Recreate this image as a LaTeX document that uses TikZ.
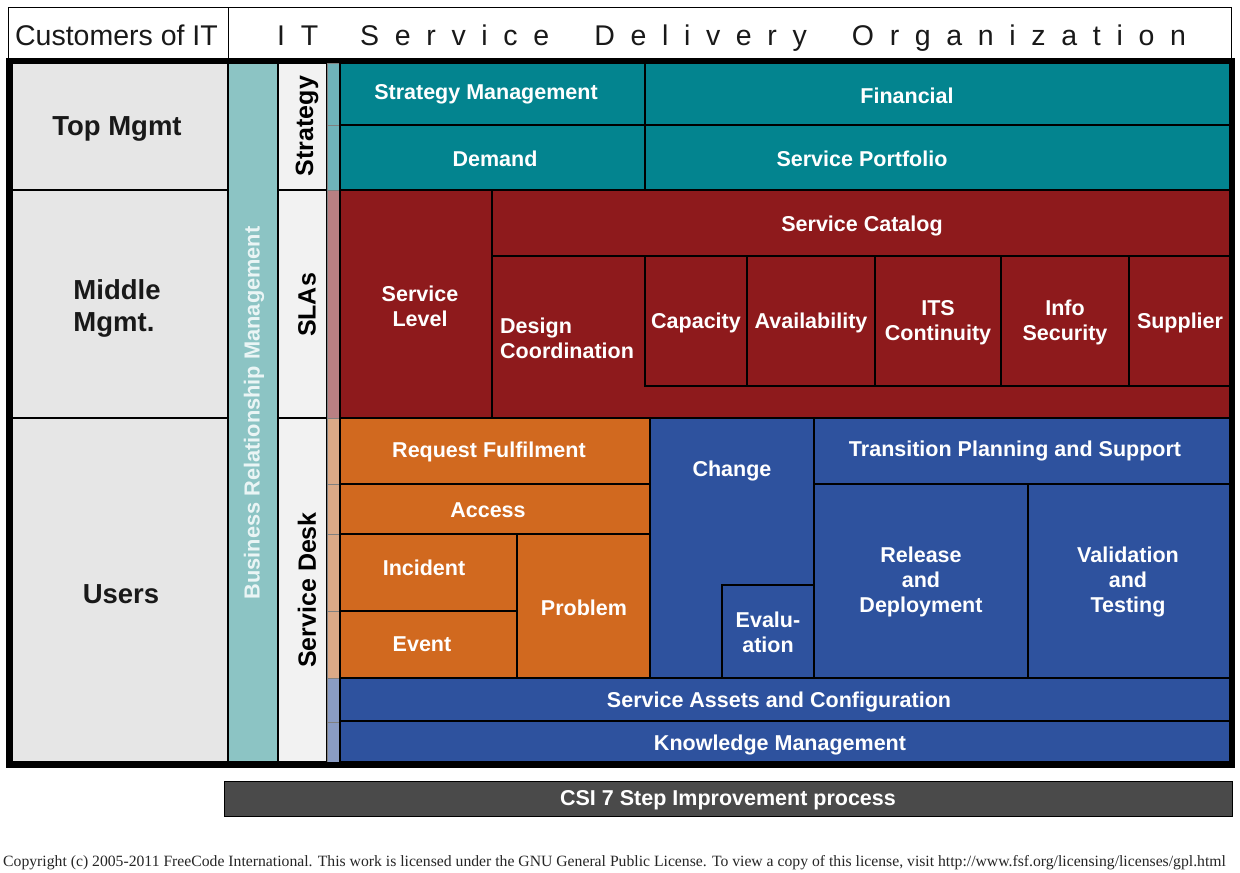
\documentclass[tikz,border=0pt]{standalone}
\usepackage{fontspec}
\setmainfont{Liberation Sans}
\newfontfamily\notefont{Liberation Serif}
\definecolor{itteal}{HTML}{03848F}
\definecolor{itred}{HTML}{8E1A1C}
\definecolor{itorange}{HTML}{D1691F}
\definecolor{itblue}{HTML}{2E529E}
\definecolor{custgray}{HTML}{E6E6E6}
\definecolor{brmteal}{HTML}{8CC4C4}
\definecolor{brmtext}{HTML}{EAF5F5}
\definecolor{lanegray}{HTML}{F2F2F2}
\definecolor{stripteal}{HTML}{6FB3BA}
\definecolor{stripred}{HTML}{B98083}
\definecolor{striporange}{HTML}{DBA987}
\definecolor{stripblue}{HTML}{8A9CC4}
\definecolor{csigray}{HTML}{4A4A4A}
% \cell{name}{x1}{y1}{x2}{y2}{fill}: a filled, outlined rectangle node between two corners
\newcommand\cell[7][cell]{%
  \node[#1, fill=#7, minimum width={#5-#3}, minimum height={#6-#4}]
    (#2) at ({(#3+#5)/2},{(#4+#6)/2}) {};}
\begin{document}
\begin{tikzpicture}[x=1pt,y=-1pt,
  cell/.style={draw=black, line width=1.2pt, inner sep=0pt, outer sep=0pt},
  stripcell/.style={draw=gray, line width=1pt, inner sep=0pt, outer sep=0pt},
  lbl/.style={text=white, align=center, inner sep=0pt, yshift=-1.5pt,
    font=\bfseries\fontsize{21.5}{25}\selectfont},
  rowlbl/.style={text=black!90, align=left, inner sep=0pt, yshift=-3pt,
    font=\bfseries\fontsize{27.5}{32}\selectfont},
  lanelbl/.style={text=black, inner sep=0pt, rotate=90,
    font=\bfseries\fontsize{25}{28}\selectfont},
  hdr/.style={draw=black, line width=1pt, inner sep=0pt, outer sep=0pt,
    fill=white},
  hdrtext/.style={inner sep=0pt, text=black!90, font=\fontsize{28.5}{32}\selectfont}
]
\useasboundingbox (0,0) rectangle (1240,873);
\fill[white] (0,0) rectangle (1240,873);

% header row
\cell[hdr]{custhdr}{8}{7}{228}{58}{white}
\cell[hdr]{orghdr}{228}{7}{1231}{58}{white}
\node[hdrtext, anchor=base] (custtext) at (116.5,45) {Customers of IT};
\node[hdrtext, anchor=base west] (orgtext) at (277,45)
  {\addfontfeature{LetterSpace=55}IT\hspace{42pt}Service\hspace{45pt}Delivery\hspace{45pt}Organization};

% customer levels
\cell{topm}{12}{63}{228}{190}{custgray}
\cell{midm}{12}{190}{228}{418}{custgray}
\cell{users}{12}{418}{228}{762}{custgray}
\node[rowlbl] (topmt) at (117,126) {Top Mgmt};
\node[rowlbl] (midmt) at (117,305) {Middle\\Mgmt.};
\node[rowlbl] (userst) at (121,591) {Users};

% business relationship management lane
\cell{brm}{228}{63}{278}{762}{brmteal}
\node[lanelbl, text=brmtext, font=\bfseries\fontsize{21.8}{25}\selectfont] (brmt) at (254,413) {Business Relationship Management};

% strategy / SLAs / service desk lanes
\cell{stratlane}{278}{63}{327}{190}{lanegray}
\cell{slalane}{278}{190}{327}{418}{lanegray}
\cell{desklane}{278}{418}{327}{762}{lanegray}
\node[lanelbl] (stratt) at (307,126) {Strategy};
\node[lanelbl] (slat) at (307,305) {SLAs};
\node[lanelbl] (deskt) at (307,590) {Service Desk};

% narrow colour strip
\cell[stripcell]{s1}{327}{63}{340}{125}{stripteal}
\cell[stripcell]{s2}{327}{125}{340}{190}{stripteal}
\cell[stripcell]{s3}{327}{190}{340}{418}{stripred}
\cell[stripcell]{s4}{327}{418}{340}{484}{striporange}
\cell[stripcell]{s5}{327}{484}{340}{534}{striporange}
\cell[stripcell]{s6}{327}{534}{340}{611}{striporange}
\cell[stripcell]{s7}{327}{611}{340}{678}{striporange}
\cell[stripcell]{s8}{327}{678}{340}{722}{stripblue}
\cell[stripcell]{s9}{327}{722}{340}{762}{stripblue}

% strategy processes
\cell{stratmgmt}{340}{63}{645}{125}{itteal}
\cell{financial}{645}{63}{1230}{125}{itteal}
\cell{demand}{340}{125}{645}{190}{itteal}
\cell{portfolio}{645}{125}{1230}{190}{itteal}
\node[lbl] (stratmgmtt) at (486,93) {Strategy Management};
\node[lbl] (financialt) at (907,94) {Financial};
\node[lbl] (demandt) at (495,157) {Demand};
\node[lbl] (portfoliot) at (862,157) {Service Portfolio};

% design processes
\cell{svclevel}{340}{190}{492}{418}{itred}
\cell{svccat}{492}{190}{1230}{256}{itred}
\cell{designco}{492}{256}{1230}{418}{itred}
\cell{capacity}{645}{256}{747}{386}{itred}
\cell{avail}{747}{256}{875}{386}{itred}
\cell{itscont}{875}{256}{1001}{386}{itred}
\cell{infosec}{1001}{256}{1129}{386}{itred}
\cell{supplier}{1129}{256}{1230}{386}{itred}
\node[lbl] (svclevelt) at (420,305) {Service\\Level};
\node[lbl] (svccatt) at (862,224) {Service Catalog};
\node[lbl, align=left, anchor=west] (designcot) at (500,337) {Design\\Coordination};
\node[lbl] (capacityt) at (696,321) {Capacity};
\node[lbl] (availt) at (811,321) {Availability};
\node[lbl] (itscontt) at (938,321) {ITS\\Continuity};
\node[lbl] (infosect) at (1065,321) {Info\\Security};
\node[lbl] (suppliert) at (1180,321) {Supplier};

% operation processes
\cell{reqful}{340}{418}{650}{484}{itorange}
\cell{access}{340}{484}{650}{534}{itorange}
\cell{incident}{340}{534}{517}{611}{itorange}
\cell{event}{340}{611}{517}{678}{itorange}
\cell{problem}{517}{534}{650}{678}{itorange}
\node[lbl] (reqfult) at (489,450) {Request Fulfilment};
\node[lbl] (accesst) at (488,509) {Access};
\node[lbl] (incidentt) at (424,566) {Incident};
\node[lbl] (eventt) at (422,643) {Event};
\node[lbl] (problemt) at (584,606) {Problem};

% transition processes
\cell{change}{650}{418}{814}{678}{itblue}
\cell{evaluation}{722}{585}{814}{678}{itblue}
\cell{tps}{814}{418}{1230}{484}{itblue}
\cell{reldep}{814}{484}{1028}{678}{itblue}
\cell{valtest}{1028}{484}{1230}{678}{itblue}
\cell{sacm}{340}{678}{1230}{721}{itblue}
\cell{km}{340}{721}{1230}{762}{itblue}
\node[lbl] (changet) at (732,469) {Change};
\node[lbl] (evaluationt) at (768,631) {Evalu-\\ation};
\node[lbl] (tpst) at (1015,449) {Transition Planning and Support};
\node[lbl] (reldept) at (921,580) {Release\\and\\Deployment};
\node[lbl] (valtestt) at (1128,580) {Validation\\and\\Testing};
\node[lbl] (sacmt) at (779,700) {Service Assets and Configuration};
\node[lbl] (kmt) at (780,743) {Knowledge Management};

% heavy frame round the whole organization
\draw[line width=5.5pt] (8.5,60.7) rectangle (1232,765);

% continual improvement bar
\cell[hdr]{csi}{224}{781}{1232}{816}{csigray}
\node[lbl] (csit) at (728,799) {CSI 7 Step Improvement process};

% licence note
\node[anchor=base west, inner sep=0pt, text=black!85,
  font=\notefont\fontsize{15.7}{18}\selectfont] (note) at (3,866)
  {Copyright (c) 2005-2011 FreeCode International. This work is licensed under the GNU General Public License. To view a copy of this license, visit http://www.fsf.org/licensing/licenses/gpl.html};
\end{tikzpicture}
\end{document}
